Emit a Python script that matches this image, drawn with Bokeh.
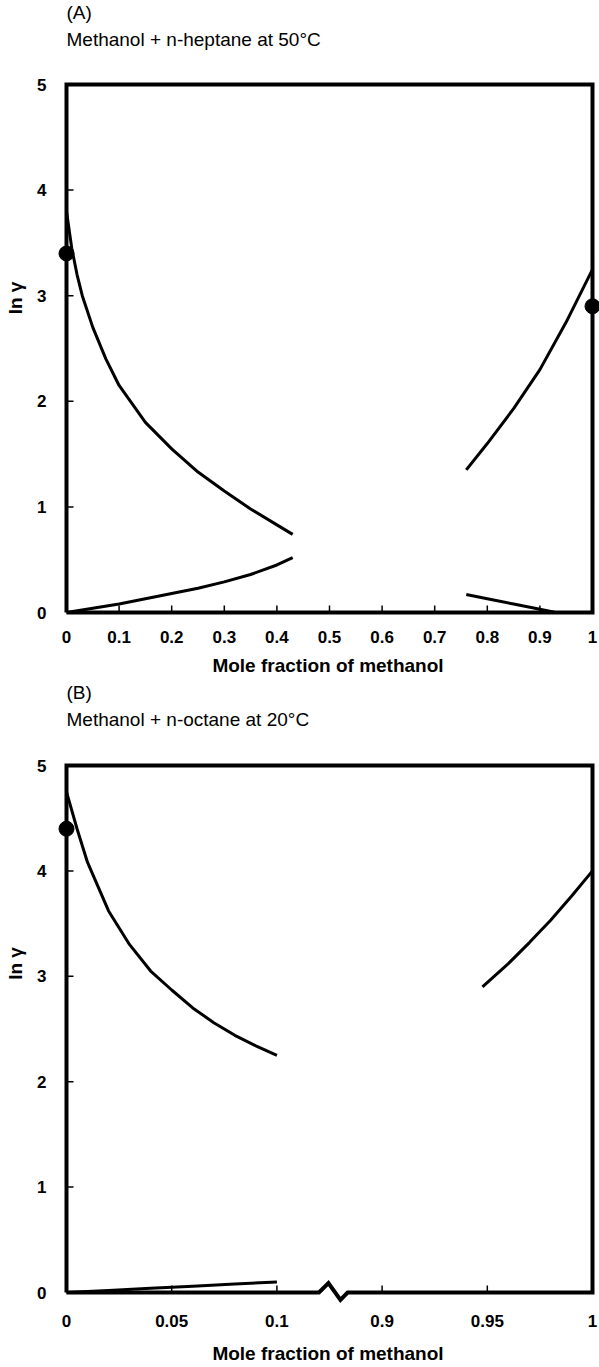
from bokeh.plotting import figure
from bokeh.models import FixedTicker, Range1d
from bokeh.core.properties import value
from bokeh.layouts import column
from bokeh.embed import file_html
from bokeh.resources import INLINE

# ---------------- data ----------------
y_ticks = [0, 1, 2, 3, 4, 5]
y_labels = ["0", "1", "2", "3", "4", "5"]

# Panel A: methanol + n-heptane at 50 C
a_x_ticks = [0, 0.1, 0.2, 0.3, 0.4, 0.5, 0.6, 0.7, 0.8, 0.9, 1.0]
a_x_labels = ["0", "0.1", "0.2", "0.3", "0.4", "0.5", "0.6", "0.7", "0.8", "0.9", "1"]
a_g1_left_x = [0.0, 0.01, 0.02, 0.03, 0.05, 0.075, 0.1, 0.15, 0.2, 0.25, 0.3, 0.35, 0.4, 0.43]
a_g1_left_y = [3.8, 3.45, 3.2, 3.0, 2.7, 2.4, 2.15, 1.8, 1.55, 1.33, 1.15, 0.98, 0.83, 0.74]
a_g2_left_x = [0.0, 0.05, 0.1, 0.15, 0.2, 0.25, 0.3, 0.35, 0.4, 0.43]
a_g2_left_y = [0.0, 0.04, 0.08, 0.13, 0.18, 0.23, 0.29, 0.36, 0.45, 0.52]
a_g1_right_x = [0.76, 0.8, 0.85, 0.9, 0.93, 0.96, 1.0]
a_g1_right_y = [0.17, 0.13, 0.08, 0.03, 0.0, 0.0, 0.0]
a_g2_right_x = [0.76, 0.8, 0.85, 0.9, 0.95, 1.0]
a_g2_right_y = [1.35, 1.6, 1.93, 2.3, 2.75, 3.25]
a_pts_x = [0.0, 1.0]
a_pts_y = [3.4, 2.9]

# Panel B: methanol + n-octane at 20 C (broken x axis)
b_x_ticks = [0, 0.05, 0.1, 0.9, 0.95, 1.0]
b_x_labels = ["0", "0.05", "0.1", "0.9", "0.95", "1"]
b_g1_left_x = [0.0, 0.005, 0.01, 0.02, 0.03, 0.04, 0.05, 0.06, 0.07, 0.08, 0.09, 0.1]
b_g1_left_y = [4.75, 4.4, 4.08, 3.62, 3.3, 3.05, 2.87, 2.7, 2.56, 2.44, 2.34, 2.25]
b_g2_left_x = [0.0, 0.02, 0.04, 0.06, 0.08, 0.1]
b_g2_left_y = [0.0, 0.02, 0.04, 0.06, 0.08, 0.1]
b_g2_right_x = [0.9477, 0.96, 0.97, 0.98, 0.99, 1.0]
b_g2_right_y = [2.9, 3.12, 3.32, 3.53, 3.76, 4.0]
b_pts_x = [0.0]
b_pts_y = [4.4]

FONT = "Liberation Sans"
NBSP = "\u00a0"


def bx(x):
    """Broken-axis mapping for panel B."""
    return round(x if x <= 0.5 else x - 0.9 + 0.15, 6)


def make_panel(xmax, x_ticks_disp, x_labels, top_title, sub_title, pad_l, pad_r, pad_b, pad_t,
               box_w, box_h, border_bottom, x_standoff, xlabel_standoff, label_shift):
    ppx = box_w / xmax
    ppy = box_h / 5.0
    p = figure(
        frame_width=box_w + pad_l + pad_r,
        frame_height=box_h + pad_b + pad_t,
        min_border_left=66 - pad_l,
        min_border_right=599 - 66 - box_w - pad_r,
        min_border_top=0,
        min_border_bottom=border_bottom,
        x_range=Range1d(-pad_l / ppx, xmax + pad_r / ppx),
        y_range=Range1d(-pad_b / ppy, 5 + pad_t / ppy),
        title=None,
        toolbar_location=None,
        output_backend="svg",
        background_fill_color="white",
        border_fill_color="white",
    )
    p.outline_line_color = None
    p.grid.visible = False

    for ax, ticks, labels in ((p.xaxis, x_ticks_disp, x_labels), (p.yaxis, y_ticks, y_labels)):
        ax.ticker = FixedTicker(ticks=ticks)
        ax.major_label_overrides = dict(zip(ticks, labels))
        ax.major_tick_line_color = None
        ax.minor_tick_line_color = None
        ax.axis_line_color = None
        ax.major_label_text_font = FONT
        ax.major_label_text_font_size = "17px"
        ax.major_label_text_font_style = "bold"
        ax.major_label_text_color = "black"
    p.xaxis.major_label_standoff = x_standoff
    p.yaxis.major_label_standoff = 4
    p.xaxis.axis_label = "Mole fraction of methanol"
    p.yaxis.axis_label = NBSP * int(round(2 * label_shift / (0.278 * 19))) + "ln γ"
    for ax in (p.xaxis, p.yaxis):
        ax.axis_label_text_font = FONT
        ax.axis_label_text_font_size = "19px"
        ax.axis_label_text_font_style = "bold"
        ax.axis_label_text_color = "black"
    p.xaxis.axis_label_standoff = xlabel_standoff
    p.yaxis.axis_label_standoff = 8

    # panel titles inside the (extended) frame, above the drawn box
    p.text(x=[0, 0], y=[5 + (pad_t - 12) / ppy, 5 + (pad_t - 39) / ppy], text=[top_title, sub_title],
           text_font=value(FONT), text_font_size="19px", text_font_style="normal",
           text_align="left", text_baseline="middle", text_color="black")
    return p, ppx, ppy


# ---------------- panel A ----------------
pA, ppxA, ppyA = make_panel(1.0, a_x_ticks, a_x_labels, "(A)", "Methanol + n-heptane  at 50°C",
                            10, 7, 4, 84, 526, 528, 64, 8, 9, 11)
pA.line([0, 0, 1, 1, 0], [0, 5, 5, 0, 0], line_color="black", line_width=4, line_join="miter")
inner = [t for t in a_x_ticks if 0 < t < 1]
pA.segment(x0=inner, y0=[0] * len(inner), x1=inner, y1=[7 / ppyA] * len(inner), line_color="black", line_width=1.5)
yin = [t for t in y_ticks if 0 < t < 5]
pA.segment(x0=[0] * len(yin), y0=yin, x1=[7 / ppxA] * len(yin), y1=yin, line_color="black", line_width=1.5)
for xs, ys in ((a_g1_left_x, a_g1_left_y), (a_g2_left_x, a_g2_left_y),
               (a_g1_right_x, a_g1_right_y), (a_g2_right_x, a_g2_right_y)):
    pA.line(xs, ys, line_color="black", line_width=3)
pA.scatter(a_pts_x, a_pts_y, size=15, fill_color="black", line_color="black")

# ---------------- panel B ----------------
bxmax = bx(1.0)
pB, ppxB, ppyB = make_panel(bxmax, [bx(t) for t in b_x_ticks], b_x_labels, "(B)", "Methanol + n-octane  at 20°C",
                            10, 7, 12, 85, 526, 527, 63, 4, 13, 30)
brk = bx(0.1) + 0.02
pB.line([0, 0, bxmax, bxmax, brk + 0.0136, brk + 0.0102, brk + 0.0045, brk, 0],
        [0, 5, 5, 0, 0, -0.07, 0.09, 0, 0],
        line_color="black", line_width=4, line_join="miter")
inner = [bx(t) for t in b_x_ticks if 0 < t < 1]
pB.segment(x0=inner, y0=[0] * len(inner), x1=inner, y1=[7 / ppyB] * len(inner), line_color="black", line_width=1.5)
pB.segment(x0=[0] * len(yin), y0=yin, x1=[7 / ppxB] * len(yin), y1=yin, line_color="black", line_width=1.5)
for xs, ys in ((b_g1_left_x, b_g1_left_y), (b_g2_left_x, b_g2_left_y), (b_g2_right_x, b_g2_right_y)):
    pB.line([bx(v) for v in xs], ys, line_color="black", line_width=3)
pB.scatter([bx(v) for v in b_pts_x], b_pts_y, size=15, fill_color="black", line_color="black")

layout = column(pA, pB, spacing=0)
open("out.html", "w").write(file_html(layout, INLINE))
